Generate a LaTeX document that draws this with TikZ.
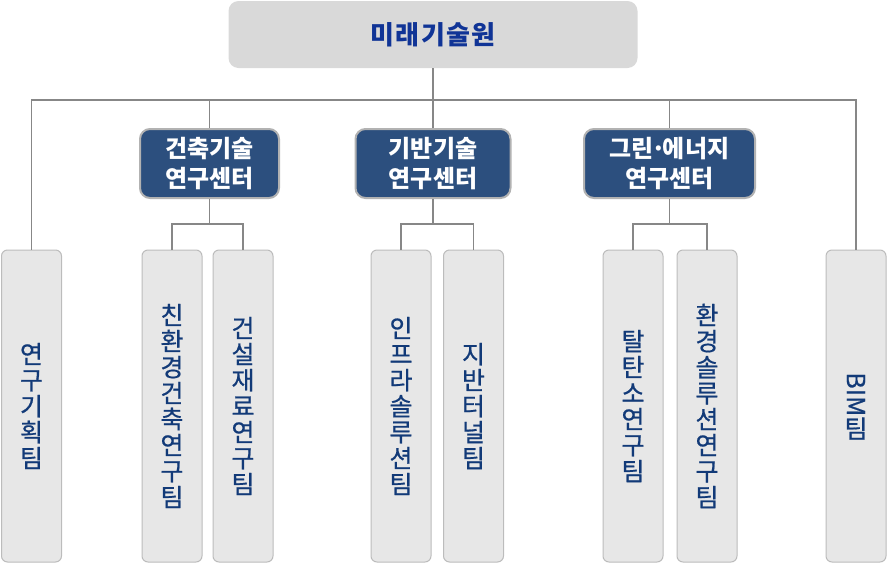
\documentclass[tikz,border=0pt]{standalone}
\usepackage{fontspec}
\setmainfont{Noto Sans CJK KR}
\newfontfamily\teamfont{Noto Sans CJK KR}[FakeBold=0.6]
\usepackage{graphicx}
\definecolor{topfill}{RGB}{217,217,217}
\definecolor{topText}{RGB}{16,52,150}
\definecolor{midfill}{RGB}{44,79,126}
\definecolor{midborder}{RGB}{178,178,178}
\definecolor{teamfill}{RGB}{231,231,231}
\definecolor{teamborder}{RGB}{188,188,188}
\definecolor{teamText}{RGB}{18,58,120}
\definecolor{connColor}{RGB}{135,135,135}
\tikzset{
  topbox/.style={fill=topfill, rounded corners=10pt, minimum width=409pt, minimum height=67pt, inner sep=0pt,
    text=topText, font=\fontsize{26}{30}\selectfont\bfseries},
  centerbox/.style={fill=midfill, draw=midborder, line width=2pt, rounded corners=10pt, minimum height=69pt, inner sep=0pt,
    text=white, align=center, font=\fontsize{24}{30}\selectfont\bfseries},
  teambox/.style={fill=teamfill, draw=teamborder, line width=1pt, rounded corners=6pt, minimum width=60pt, minimum height=312pt, inner sep=0pt,
    text=teamText, align=center, font=\teamfont\fontsize{25}{26}\selectfont},
  conn/.style={draw=connColor, line width=1.3pt},
}
\begin{document}
\begin{tikzpicture}[x=1pt,y=-1pt]
\useasboundingbox (0,0) rectangle (887,563);
\node[topbox] (top) at (433,34.5) {미\kern0.06em 래\kern0.06em 기\kern0.06em 술\kern0.06em 원};
\node[centerbox, minimum width=139pt] (c1) at (209.5,163.5) {건축기술\\연구센터};
\node[centerbox, minimum width=155pt] (c2) at (433,163.5) {기반기술\\연구센터};
\node[centerbox, minimum width=171pt] (c3) at (669.5,163.5) {그린\kern-0.12em·\kern-0.12em에너지\\연구센터};
\node[teambox] (t0) at (31.5,406) {연\\구\\기\\획\\팀};
\node[teambox] (t1) at (172,406) {친\\환\\경\\건\\축\\연\\구\\팀};
\node[teambox] (t2) at (243,406) {건\\설\\재\\료\\연\\구\\팀};
\node[teambox] (t3) at (401,406) {인\\프\\라\\솔\\루\\션\\팀};
\node[teambox] (t4) at (473.5,406) {지\\반\\터\\널\\팀};
\node[teambox] (t5) at (633,406) {탈\\탄\\소\\연\\구\\팀};
\node[teambox] (t6) at (707,406) {환\\경\\솔\\루\\션\\연\\구\\팀};
\node[teambox] (t7) at (856,406) {\rotatebox{-90}{BIM}\\팀};
\coordinate (bus) at (433,100);
\coordinate (b1) at (209.5,224);
\coordinate (b2) at (433,224);
\coordinate (b3) at (669.5,224);
\draw[conn] (top.south) -- (bus);
\draw[conn] (t0.north) |- (bus) -| (t7.north);
\draw[conn] (c1.north) -- (c1.north |- bus);
\draw[conn] (c2.north) -- (c2.north |- bus);
\draw[conn] (c3.north) -- (c3.north |- bus);
\draw[conn] (c1.south) -- (b1);
\draw[conn] (t1.north) |- (b1) -| (t2.north);
\draw[conn] (c2.south) -- (b2);
\draw[conn] (t3.north) |- (b2) -| (t4.north);
\draw[conn] (c3.south) -- (b3);
\draw[conn] (t5.north) |- (b3) -| (t6.north);
\end{tikzpicture}
\end{document}
